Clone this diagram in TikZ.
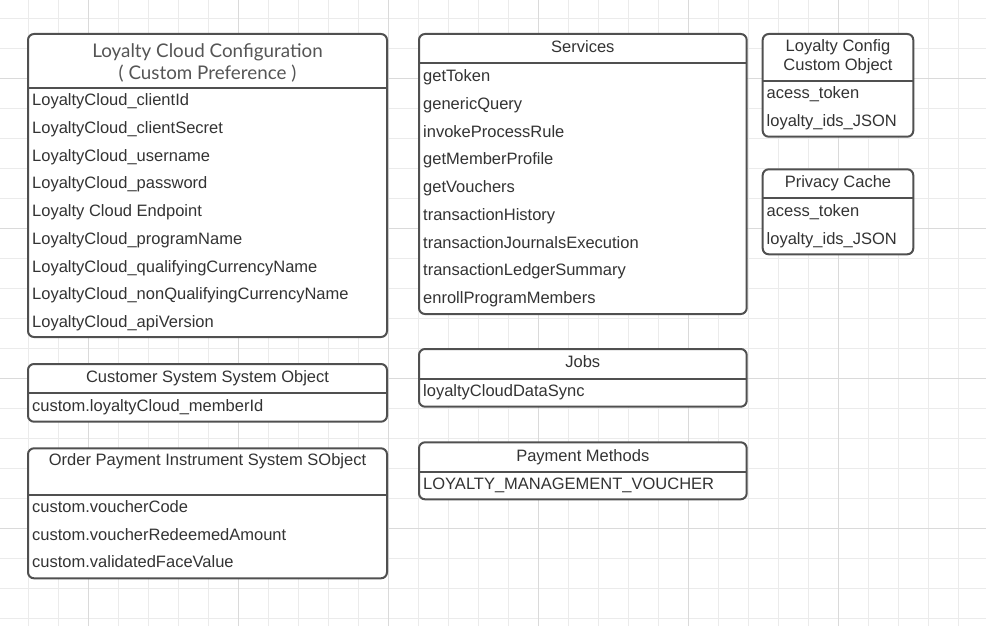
\documentclass[tikz,border=0pt]{standalone}
\usepackage{fontspec}
\setmainfont{Liberation Sans}
\newfontfamily\headfont{Lato}
\usetikzlibrary{positioning}
\definecolor{frameGray}{HTML}{505050}
\definecolor{inkGray}{HTML}{333333}
\definecolor{headGray}{HTML}{555555}
\definecolor{gridMinor}{HTML}{EBEBEB}
\definecolor{gridMajor}{HTML}{DADADA}
\tikzset{
    boxFrame/.style={draw=frameGray, fill=white, line width=2pt, rounded corners=6pt},
    sepLine/.style={draw=frameGray, line width=2pt},
    fieldText/.style={anchor=base west, inner sep=0pt, text=inkGray, font=\fontsize{16.5}{19}\selectfont},
    titleText/.style={anchor=base, inner sep=0pt, text=inkGray, font=\fontsize{16.5}{19}\selectfont},
    headText/.style={align=center, inner sep=0pt, text=headGray, font=\headfont\fontsize{18.8}{21.7}\selectfont}
}

\begin{document}
\begin{tikzpicture}[x=1pt, y=-1pt]
	\useasboundingbox (0,0) rectangle (986,626);
	% background grid
	\foreach \gx in {28,58,...,958} \draw[gridMinor] (\gx,0) -- (\gx,626);
	\foreach \gy in {18,48,...,618} \draw[gridMinor] (0,\gy) -- (986,\gy);
	\foreach \gx in {88,238,...,838} \draw[gridMajor] (\gx,0) -- (\gx,626);
	\foreach \gy in {78,228,...,528} \draw[gridMajor] (0,\gy) -- (986,\gy);

	% Loyalty Cloud Configuration
	\draw[boxFrame] (28,34) rectangle (387,337);
	\draw[sepLine] (28,88) -- (387,88);
	\node[headText] (cfgTitle) at (207.5,63) {Loyalty Cloud Configuration\\( Custom Preference )};
	\foreach \name [count=\i from 0] in {LoyaltyCloud\_clientId, LoyaltyCloud\_clientSecret, LoyaltyCloud\_username, LoyaltyCloud\_password, Loyalty Cloud Endpoint, LoyaltyCloud\_programName, LoyaltyCloud\_qualifyingCurrencyName, LoyaltyCloud\_nonQualifyingCurrencyName, LoyaltyCloud\_apiVersion}
		\node[fieldText] (cfg-\i) at (32,105.5+27.77*\i) {\name};

	% Customer System Object
	\draw[boxFrame] (28,364) rectangle (387,421.7);
	\draw[sepLine] (28,393.3) -- (387,393.3);
	\node[titleText] (custTitle) at (207.5,382.7) {Customer System System Object};
	\node[fieldText] (cust-0) at (32,411.7) {custom.loyaltyCloud\_memberId};

	% Order Payment Instrument
	\draw[boxFrame] (28,448.3) rectangle (387,578.3);
	\draw[sepLine] (28,495) -- (387,495);
	\node[titleText] (opiTitle) at (207.5,465) {Order Payment Instrument System SObject};
	\foreach \name [count=\i from 0] in {custom.voucherCode, custom.voucherRedeemedAmount, custom.validatedFaceValue}
		\node[fieldText] (opi-\i) at (32,512.7+27.5*\i) {\name};

	% Services
	\draw[boxFrame] (419,34) rectangle (746.7,314);
	\draw[sepLine] (419,63.3) -- (746.7,63.3);
	\node[titleText] (svcTitle) at (582.8,52.7) {Services};
	\foreach \name [count=\i from 0] in {getToken, genericQuery, invokeProcessRule, getMemberProfile, getVouchers, transactionHistory, transactionJournalsExecution, transactionLedgerSummary, enrollProgramMembers}
		\node[fieldText] (svc-\i) at (423,81.7+27.75*\i) {\name};

	% Jobs
	\draw[boxFrame] (419,349) rectangle (746.7,406.7);
	\draw[sepLine] (419,379) -- (746.7,379);
	\node[titleText] (jobsTitle) at (582.8,367.7) {Jobs};
	\node[fieldText] (jobs-0) at (423,396.7) {loyaltyCloudDataSync};

	% Payment Methods
	\draw[boxFrame] (419,442.3) rectangle (746.7,499.3);
	\draw[sepLine] (419,472.3) -- (746.7,472.3);
	\node[titleText] (payTitle) at (582.8,461) {Payment Methods};
	\node[fieldText] (pay-0) at (423,489.3) {LOYALTY\_MANAGEMENT\_VOUCHER};

	% Loyalty Config Custom Object
	\draw[boxFrame] (762.7,34) rectangle (913.3,136.7);
	\draw[sepLine] (762.7,81) -- (913.3,81);
	\node[titleText] (lccTitle) at (838,52) {Loyalty Config};
	\node[titleText] (lccTitleB) at (838,71) {Custom Object};
	\foreach \name [count=\i from 0] in {acess\_token, loyalty\_ids\_JSON}
		\node[fieldText] (lcc-\i) at (766.5,98.7+27.3*\i) {\name};

	% Privacy Cache
	\draw[boxFrame] (762.7,169.3) rectangle (913.3,254.3);
	\draw[sepLine] (762.7,198.3) -- (913.3,198.3);
	\node[titleText] (privTitle) at (838,187.7) {Privacy Cache};
	\foreach \name [count=\i from 0] in {acess\_token, loyalty\_ids\_JSON}
		\node[fieldText] (priv-\i) at (766.5,216.7+27.6*\i) {\name};
\end{tikzpicture}
\end{document}
